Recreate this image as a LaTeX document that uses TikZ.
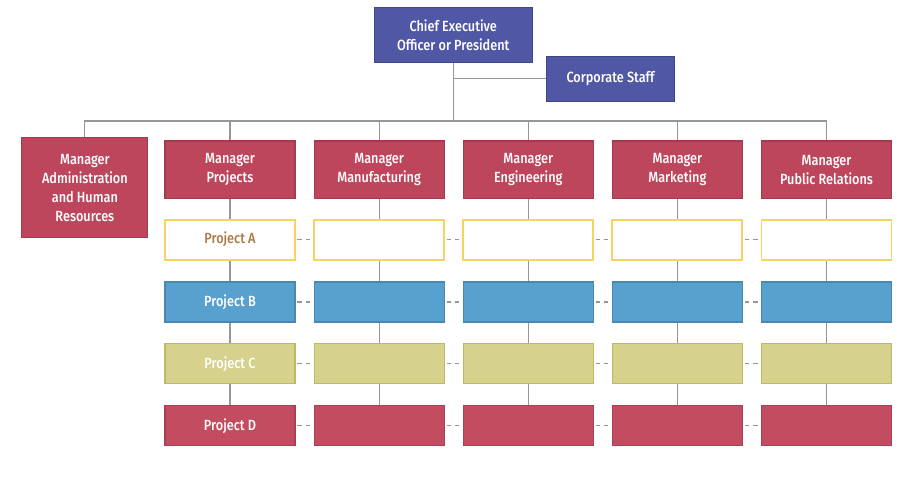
\documentclass[tikz,border=0pt]{standalone}
\usepackage{fontspec}
\setmainfont{Fira Sans}[UprightFont=* Medium, FakeStretch=0.86]
\usetikzlibrary{positioning, calc, backgrounds}
\definecolor{bluexec}{RGB}{80,88,166}
\definecolor{redmgr}{RGB}{190,70,92}
\definecolor{yelA}{RGB}{246,212,100}
\definecolor{brownA}{RGB}{172,122,70}
\definecolor{blueB}{RGB}{88,160,206}
\definecolor{oliveC}{RGB}{214,210,142}
\definecolor{redD}{RGB}{196,76,96}
\definecolor{linkgray}{RGB}{150,150,150}

\begin{document}
\begin{tikzpicture}[node distance=0.45cm,
        box/.style={draw, thick, minimum width=3.25cm, minimum height=1cm,
                    align=center, text=white, font=\fontsize{10.5}{13.5}\selectfont},
        exec/.style={box, fill=bluexec, draw=bluexec!80!black},
        mgr/.style={box, fill=redmgr, draw=redmgr!85!black, minimum height=1.43cm},
        prja/.style={box, fill=white, draw=yelA, line width=1.3pt, text=brownA},
        prjb/.style={box, fill=blueB, draw=blueB!85!black},
        prjc/.style={box, fill=oliveC, draw=oliveC!70!olive},
        prjd/.style={box, fill=redD, draw=redD!85!black},
        link/.style={draw=linkgray, thick},
        dlink/.style={link, dashed}]

      \useasboundingbox (0,0) rectangle (22.6,-12.05);

      \node[exec, minimum width=3.95cm, minimum height=1.38cm] (ceo) at (11.33,-0.87)
            {Chief Executive\\Officer or President};
      \node[exec, minimum width=3.2cm, minimum height=1.12cm, anchor=north west] (corp)
            at ($(ceo.south east)+(0.33,0.18)$) {Corporate Staff};

      \node[mgr] (mproj) at (5.75,-4.24) {Manager\\Projects};
      \node[mgr, right=of mproj] (mmfg) {Manager\\Manufacturing};
      \node[mgr, right=of mmfg]  (meng) {Manager\\Engineering};
      \node[mgr, right=of meng]  (mmkt) {Manager\\Marketing};
      \node[mgr, right=of mmkt]  (mpr)  {Manager\\Public Relations};
      \node[mgr, minimum width=3.15cm, minimum height=2.5cm, left=0.4cm of mproj.north west,
            anchor=north east, yshift=0.08cm] (madm) {Manager\\Administration\\and Human\\Resources};

      % project rows under each manager
      \foreach \m/\ta/\tb/\tc/\td in {mproj/Project A/Project B/Project C/Project D,
                                     mmfg/{}/{}/{}/{}, meng/{}/{}/{}/{},
                                     mmkt/{}/{}/{}/{}, mpr/{}/{}/{}/{}} {
        \node[prja, below=0.5cm of \m]    (\m-a) {\ta};
        \node[prjb, below=0.52cm of \m-a] (\m-b) {\tb};
        \node[prjc, below=0.52cm of \m-b] (\m-c) {\tc};
        \node[prjd, below=0.52cm of \m-c] (\m-d) {\td};
      }

      \begin{scope}[on background layer]
        \foreach \m in {mproj, mmfg, meng, mmkt, mpr}
          \draw[link] (\m.center) -- (\m-d.center);
        \foreach \l/\r in {mproj/mmfg, mmfg/meng, meng/mmkt, mmkt/mpr}
          \foreach \k in {a,b,c,d}
            \draw[dlink] (\l-\k.center) -- (\r-\k.center);

        % tree above the managers
        \coordinate (bus) at ($(ceo.south)+(0,-1.45)$);
        \draw[link] (ceo.center) -- (bus);
        \draw[link] (ceo.center) |- (corp.center);
        \draw[link] (madm.center) |- (bus) -| (mpr.center);
        \foreach \m in {mproj, mmfg, meng, mmkt}
          \draw[link] (bus -| \m.north) -- (\m.center);
      \end{scope}
    \end{tikzpicture}
\end{document}
